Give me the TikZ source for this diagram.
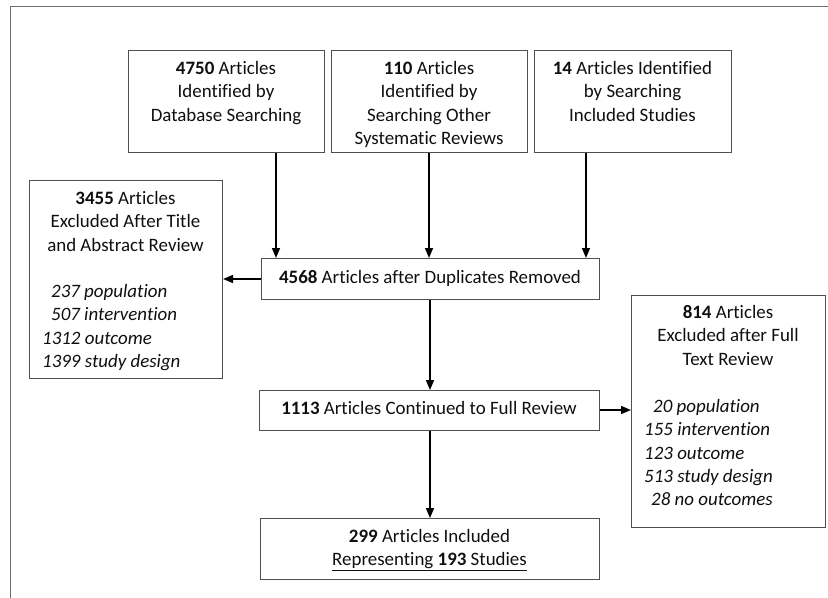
\documentclass[tikz,border=0pt]{standalone}
\usepackage{fontspec}
\setmainfont{Carlito}[Ligatures={NoCommon}]
\usetikzlibrary{arrows.meta}
\definecolor{boxc}{RGB}{80,80,80}
\definecolor{framec}{RGB}{110,110,110}
\definecolor{textc}{RGB}{15,15,15}
\begin{document}
\begin{tikzpicture}[x=1bp,y=-1bp,
  box/.style={draw=boxc, line width=1.1bp, inner sep=0pt, anchor=north west},
  txt/.style={font=\fontsize{19}{23.3}\selectfont, text=textc, inner sep=0pt, align=center, anchor=north},
  lst/.style={font=\fontsize{19}{23.3}\selectfont\itshape, text=textc, inner sep=0pt, align=left, anchor=north west},
  arr/.style={line width=1.6bp, -{Triangle[length=10bp,width=8bp]}}]
\useasboundingbox (0,0) rectangle (828,598);
\draw[framec, line width=1bp] (10.5,598) -- (10.5,6.5) -- (828,6.5);

% boxes
\node[box, minimum width=196bp, minimum height=102bp] (a) at (128,50) {};
\node[box, minimum width=196bp, minimum height=102bp] (b) at (331,50) {};
\node[box, minimum width=197bp, minimum height=102bp] (c) at (534,50) {};
\node[box, minimum width=193bp, minimum height=198bp] (d) at (29,180) {};
\node[box, minimum width=338bp, minimum height=41bp] (e) at (261,258) {};
\node[box, minimum width=340bp, minimum height=40bp] (f) at (259,390) {};
\node[box, minimum width=339bp, minimum height=61bp] (g) at (260,518) {};
\node[box, minimum width=194bp, minimum height=232bp] (h) at (631,295) {};

% texts
\node[txt] (at) at (226,58.2) {\strut\textbf{4750} Articles\\Identified by\\Database Searching};
\node[txt] (bt) at (429,58.2) {\strut\textbf{110} Articles\\Identified by\\Searching Other\\Systematic Reviews};
\node[txt] (ct) at (632.5,58.2) {\strut\textbf{14} Articles Identified\\by Searching\\Included Studies};
\node[txt] (dt) at (125.5,188.2) {\strut\textbf{3455} Articles\\Excluded After Title\\and Abstract Review};
\node[lst] (dl) at (42,281.2) {\strut\hspace*{9pt}237 population\\\hspace*{9pt}507 intervention\\1312 outcome\\1399 study design};
\node[txt, anchor=base] (et) at (430,283.5) {\textbf{4568} Articles after Duplicates Removed};
\node[txt, anchor=base] (ft) at (429,414.5) {\textbf{1113} Articles Continued to Full Review};
\node[txt] (gt) at (429.5,526.2) {\strut\textbf{299} Articles Included\\\underline{Representing \textbf{193} Studies}};
\node[txt] (ht) at (728,302.2) {\strut\textbf{814} Articles\\Excluded after Full\\Text Review};
\node[lst] (hl) at (644,396.2) {\strut\hspace*{9pt}20 population\\155 intervention\\123 outcome\\513 study design\\\hspace*{7pt}28 no outcomes};

% connectors
\draw[arr] (a.south -| 276,0) -- (e.north -| 276,0);
\draw[arr] (b.south -| 429,0) -- (e.north -| 429,0);
\draw[arr] (c.south -| 586,0) -- (e.north -| 586,0);
\draw[arr] (e.west |- 0,279) -- (d.east |- 0,279);
\draw[arr] (e.south -| 430,0) -- (f.north -| 430,0);
\draw[arr] (f.east |- 0,410) -- (h.west |- 0,410);
\draw[arr] (f.south -| 430,0) -- (g.north -| 430,0);
\end{tikzpicture}
\end{document}
